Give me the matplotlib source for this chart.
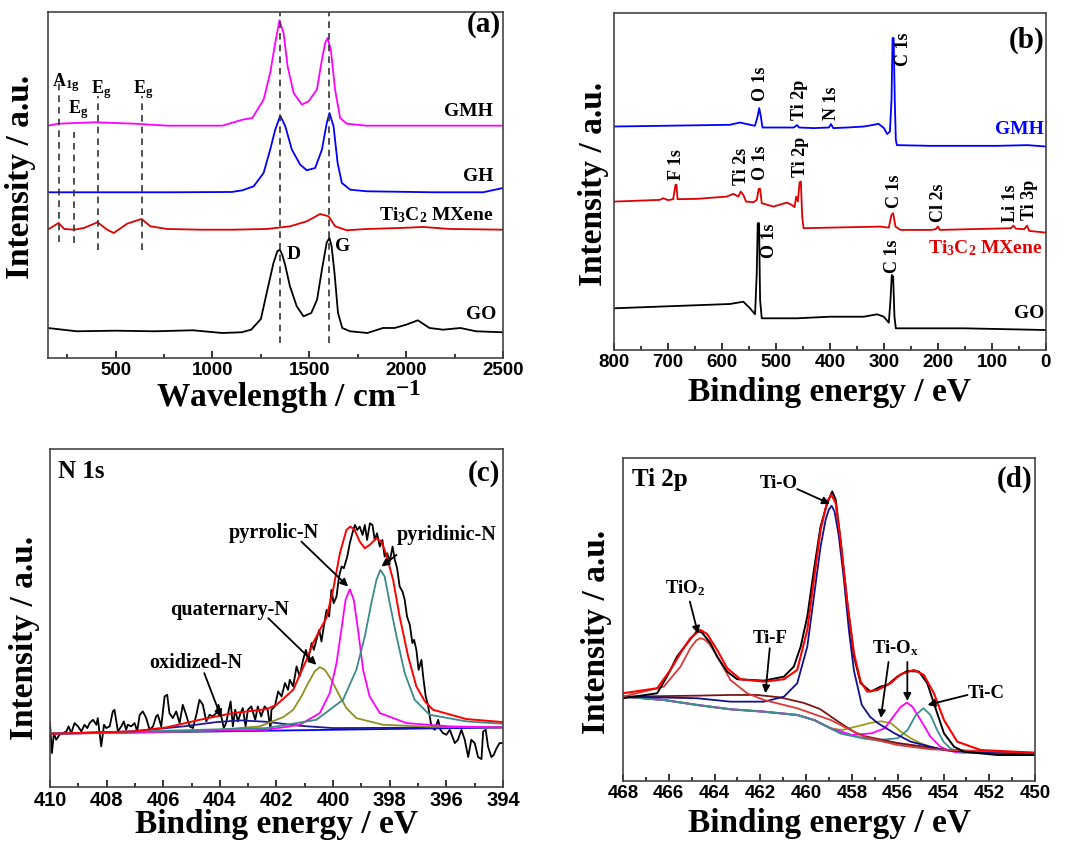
import matplotlib
matplotlib.use("Agg")
import matplotlib.pyplot as plt
from matplotlib.ticker import MultipleLocator

plt.rcParams["font.family"] = "Liberation Serif"
plt.rcParams["font.weight"] = "bold"
plt.rcParams["axes.labelweight"] = "bold"
plt.rcParams["mathtext.fontset"] = "custom"
plt.rcParams["mathtext.rm"] = "Liberation Serif:bold"
plt.rcParams["mathtext.it"] = "Liberation Serif:bold"
plt.rcParams["mathtext.bf"] = "Liberation Serif:bold"
plt.rcParams["mathtext.default"] = "rm"

# ---------------- (a) Raman data ----------------

go_raman_x = [150, 300, 500, 700, 900, 1050, 1150, 1200, 1250, 1280, 1315, 1335, 1348, 1360, 1375, 1400, 1435,
              1470, 1510, 1540, 1565, 1590, 1604, 1615, 1630, 1648, 1670, 1710, 1800, 1880, 1940, 2000, 2060,
              2120, 2190, 2280, 2360, 2500]
go_raman_y = [30, 26.7, 27.3, 26.7, 27.7, 25, 25.7, 28.3, 39, 65, 95, 106.7, 108.3, 103.3, 93.3, 71.7, 51.7,
              41.7, 45, 58.3, 88.3, 115.7, 120, 111.7, 85, 45, 30, 26.7, 25, 30, 30, 33.3, 37.7,
              30, 28.3, 30, 26.7, 25.7]

mxene_raman_x = [150, 206, 235, 287, 337, 407, 457, 491, 560, 634, 680, 766, 938, 1110, 1281, 1401, 1487, 1556,
                 1599, 1633, 1693, 1796, 1968, 2088, 2226, 2500]
mxene_raman_y = [128.3, 135, 129, 128.3, 130, 135.7, 128.3, 125, 134.3, 139, 131.7, 129, 128.3, 128.3, 129,
                 131.7, 136.7, 144, 141.7, 131.7, 127.7, 129, 130, 131, 129, 128.3]

gh_raman_x = [150, 500, 800, 1100, 1155, 1213, 1264, 1298, 1324, 1350, 1376, 1410, 1453, 1487, 1530, 1565,
              1590, 1604, 1625, 1646, 1668, 1711, 1796, 2140, 2397, 2500]
gh_raman_y = [165.7, 165.7, 165.7, 166, 167.7, 171.7, 185, 208.3, 228.3, 242.3, 231.7, 208.3, 193.3, 187.7,
              190, 208.3, 235, 245, 231.7, 195, 175, 168.3, 166.7, 165.7, 165.7, 170]

gmh_raman_x = [150, 206, 390, 600, 766, 1052, 1155, 1206, 1264, 1298, 1324, 1346, 1367, 1388, 1419, 1462,
               1496, 1539, 1565, 1582, 1594, 1611, 1633, 1659, 1693, 1796, 2500]
gmh_raman_y = [232.3, 234.3, 235.7, 234.3, 232.3, 232.3, 238.3, 240, 258.3, 285, 315, 337.7, 325, 291.7,
               265, 253.3, 256.7, 268.3, 298.3, 315, 320, 308.3, 268.3, 240, 234.3, 232.3, 232.3]

band_x = [1350, 1600]
mode_x = [206, 287, 407, 634]
mode_top = [275, 226, 261.7, 261.7]
mode_bottom = [116, 115, 108, 108]

# ---------------- (b) XPS survey data ----------------

gmh_xps_x = [800, 585, 567, 548, 539, 534, 531, 528, 525, 492, 467, 461, 457, 430, 402, 398, 394, 368, 337,
             319, 310, 300, 294, 289, 286, 284, 282, 280, 278, 276, 214, 90, 34, 0]
gmh_xps_y = [223.3, 225, 227.3, 225, 224, 233.3, 241.7, 233.3, 222.3, 222.3, 222.3, 224.7, 222.3, 221.7,
             222.3, 225.7, 221.7, 222.3, 223.3, 225, 226, 221.7, 215.7, 218.3, 250, 311.7, 311.7, 250, 210,
             204.7, 204, 204, 204.7, 203.3]

mxene_xps_x = [800, 715.2, 709, 699.7, 690.4, 686.1, 684.2, 682.3, 647.1, 591.3, 578.9, 569.6, 565.3, 560.4,
               555.4, 541.8, 535.6, 531.9, 529.4, 526.3, 504.6, 479.9, 470.6, 465.6, 462.5, 459.4, 456.3,
               453.9, 451.4, 448.9, 399.4, 306.5, 291, 286.1, 283, 278.6, 269.3, 213.6, 204.3, 200, 196.3,
               65, 60, 55.7, 40.2, 35.3, 30.9, 0]
mxene_xps_y = [148.3, 150, 151.7, 149.7, 150.7, 165, 165, 150.7, 151, 153.3, 156, 153.3, 158.3, 155, 148.3,
               147.7, 150, 161, 161, 146.7, 143.3, 147.3, 145, 142.7, 153.3, 148.3, 167.3, 168.3, 133.3,
               121.7, 122.3, 123.3, 122.3, 135, 136.7, 123.3, 120, 120, 120.7, 123.3, 120, 121.7, 124.3,
               121.3, 120.7, 124.3, 119, 117.3]

go_xps_x = [800, 585.1, 560.4, 548, 538.7, 535.6, 533.7, 531.3, 529.4, 526.3, 461.3, 399.4, 337.5, 312.7,
            300.3, 291, 287.9, 285.5, 283, 280.5, 278, 213.6, 151.7, 0]
go_xps_y = [41.7, 46, 48.3, 41.7, 35.7, 76.7, 126.7, 126.7, 50, 31.7, 31.7, 33.3, 33.3, 35.7, 33.3, 27.3,
            50, 75, 73.3, 33.3, 21.7, 21.7, 21.7, 20]

# ---------------- (c) N 1s data ----------------

n1s_raw_x = [410.0, 409.93, 409.86, 409.78, 409.66, 409.54, 409.42, 409.34, 409.25, 409.13, 409.01, 408.89,
             408.78, 408.68, 408.6, 408.48, 408.36, 408.31, 408.19, 408.09, 408.01, 407.89, 407.78, 407.72,
             407.6, 407.48, 407.39, 407.31, 407.25, 407.13, 407.01, 406.92, 406.83, 406.72, 406.6, 406.48,
             406.36, 406.25, 406.19, 406.07, 405.95, 405.86, 405.78, 405.66, 405.54, 405.42, 405.31, 405.19,
             405.07, 404.95, 404.83, 404.72, 404.6, 404.48, 404.36, 404.25, 404.13, 404.05, 403.95, 403.86,
             403.78, 403.72, 403.62, 403.54, 403.46, 403.36, 403.27, 403.19, 403.09, 403.01, 402.89, 402.75,
             402.66, 402.54, 402.42, 402.31, 402.21,
             402.18, 402.06, 401.94, 401.82, 401.70, 401.59, 401.53, 401.41, 401.29, 401.18,
             401.06, 400.96, 400.88, 400.76, 400.68, 400.59, 400.49, 400.41, 400.33, 400.23,
             400.14, 400.06, 399.98, 399.88, 399.79, 399.70, 399.62, 399.50, 399.41, 399.32,
             399.23, 399.15, 399.06, 398.96, 398.88, 398.80, 398.70, 398.61, 398.53, 398.45,
             398.35, 398.26, 398.18, 398.09, 398.0, 397.90, 397.82, 397.74, 397.65, 397.55,
             397.47, 397.39, 397.29, 397.20, 397.14, 397.06, 396.98, 396.88, 396.82, 396.73,
             396.65, 396.53, 396.41, 396.29, 396.21, 396.12, 396.0, 395.88, 395.79, 395.70,
             395.59, 395.47, 395.35, 395.23, 395.12, 395.0, 394.88, 394.76, 394.70, 394.61,
             394.53, 394.41, 394.33, 394.23, 394.12, 394.0]
n1s_raw_y = [64, 34, 54, 47.3, 52.3, 54, 55.7, 60.7, 54, 64, 60.7, 55.7, 62.3, 59, 64, 67.3, 62.3, 69, 40.7,
             62.3, 59, 60.7, 75.7, 77.3, 55.7, 60.7, 65.7, 57.3, 62.3, 60.7, 64, 55.7, 72.3, 75.7, 69, 57.3,
             60.7, 70.7, 72.3, 60.7, 90.7, 92.3, 74, 69, 75.7, 64, 82.3, 72.3, 60.7, 59, 72.3, 87.3, 82.3,
             65.7, 72.3, 70.7, 74, 82.3, 70.7, 59, 64, 72.3, 85.7, 60.7, 77.3, 65.7, 74, 79, 60.7, 77.3,
             80.7, 67.3, 80.7, 70.7, 80.7, 77.3, 57.3,
             77.3, 80.7, 95.7, 90.7, 104, 97.3, 107.3, 100.7, 120.7, 110.7,
             127.3, 137.3, 127.3, 144, 137.3, 147.3, 157.3, 145.7, 160.7, 177.3,
             170.7, 197.3, 184, 190.7, 210.7, 220.7, 219, 230.7, 244, 254,
             262.3, 257.3, 260.7, 252.3, 262.3, 247.3, 264, 262.3, 247.3, 254,
             240.7, 247.3, 230.7, 234, 225.7, 240.7, 227.3, 219, 200.7, 195.7,
             187.3, 170.7, 162.3, 144, 147.3, 137.3, 117.3, 127.3, 110.7, 90.7,
             82.3, 60.7, 57.3, 67.3, 57.3, 54, 52.3, 57.3, 50.7, 44,
             47.3, 57.3, 47.3, 30, 47.3, 44, 30, 28, 55.7, 57.3,
             40.7, 30, 32, 38.7, 44, 44]

n1s_fit_x = [410, 407.06, 405.88, 404.71, 403.53, 402.35, 402.0, 401.41, 400.94, 400.71, 400.47, 400.24,
             400.0, 399.76, 399.53, 399.39, 399.24, 399.06, 398.88, 398.71, 398.47, 398.29, 398.12, 397.88,
             397.65, 397.35, 397.06, 396.76, 396.47, 395.29, 394]
n1s_fit_y = [53.3, 55.7, 59.7, 67.3, 74, 78, 82.3, 97.3, 127.3, 144, 157.3, 169, 197.3, 234, 257.3, 260.7,
             257.3, 245.7, 239, 242.3, 249, 245.7, 232.3, 207.3, 170.7, 130.7, 100.7, 85.7, 77.3, 68, 65]

n1s_base_x = [410, 394]
n1s_base_y = [53.3, 59.7]

oxidized_x = [410, 407.06, 405.29, 404.12, 403.29, 402.35, 401.18, 400.0, 394]
oxidized_y = [53.3, 55.7, 60.7, 65, 66.7, 65.3, 61.3, 59, 59.7]

quaternary_x = [410, 404.71, 402.59, 401.76, 401.41, 401.12, 400.88, 400.65, 400.47, 400.29, 400.06, 399.82,
                399.53, 399.18, 398.24, 396.47, 394]
quaternary_y = [53.3, 55.7, 60.7, 70, 77.3, 90.7, 104, 115.7, 120, 117.3, 107.3, 94, 79, 69, 62.3, 60.3, 59.7]

pyrrolic_x = [410, 402.35, 401.18, 400.47, 400.12, 399.88, 399.71, 399.56, 399.41, 399.27, 399.12, 398.94,
              398.71, 398.35, 397.41, 395.88, 394]
pyrrolic_y = [53.3, 57.3, 62.3, 74, 94, 124, 157.3, 187.3, 198, 187.3, 157.3, 117.3, 90.7, 74, 64, 60.7, 59.7]

pyridinic_x = [410, 402.35, 400.59, 399.65, 399.18, 398.88, 398.65, 398.47, 398.33, 398.18, 398.0, 397.76,
               397.47, 397.12, 396.59, 395.29, 394]
pyridinic_y = [53.3, 59, 67.3, 87.3, 117.3, 150.7, 184, 207.3, 217.3, 210.7, 184, 150.7, 114, 87.3, 72.3,
               65.7, 63.3]

# ---------------- (d) Ti 2p data ----------------

ti_raw_x = [468, 466.51, 466.08, 465.64, 465.2, 464.76, 464.55, 464.18, 463.89, 463.45, 463.01, 461.85,
            460.97, 460.54, 460.24, 459.95, 459.66, 459.37, 459.08, 458.86, 458.71, 458.5, 458.2, 457.91,
            457.62, 457.18, 456.75, 456.45, 456.02, 455.58, 455.07, 454.71, 454.42, 453.98, 453.54, 453.1,
            451.64, 450.04]
ti_raw_y = [82.7, 87.7, 104.3, 124.3, 137.7, 150, 148.3, 137.7, 124.3, 109.3, 101.7, 100.3, 104.3, 114.3,
            134.3, 164.3, 211, 254.3, 277.7, 289.3, 281, 241, 177.7, 124.3, 97.7, 89.3, 94.3, 96, 104.3,
            110, 109.3, 97.7, 77.7, 47.7, 34.3, 29.3, 26, 26]

ti_fit_x = [468, 466.51, 465.93, 465.49, 465.06, 464.62, 464.33, 463.89, 463.45, 462.87, 461.85, 460.97,
            460.39, 459.95, 459.66, 459.37, 459.08, 458.9, 458.71, 458.5, 458.2, 457.91, 457.62, 457.33,
            456.89, 456.31, 455.87, 455.29, 454.86, 454.42, 453.98, 453.4, 452.38, 450.04]
ti_fit_y = [87.7, 92.7, 111, 127.7, 142.7, 151, 147, 131, 112.7, 101.7, 99.3, 101.7, 111, 151, 201, 251,
            279.3, 286, 277.7, 241, 177.7, 127.7, 99.3, 89.3, 91, 97.7, 106.7, 111, 106, 87.7, 61, 39.3, 31,
            28.3]

tio2_x = [468, 466.22, 465.49, 465.06, 464.8, 464.62, 464.45, 464.25, 464.0, 463.7, 463.31, 462.58, 461.85,
          460.39, 458.93, 457.48, 456.02, 454.56, 450.04]
tio2_y = [84.3, 94.3, 114.3, 132.7, 140.5, 142.7, 141.5, 137.5, 129, 117, 101, 87.7, 81, 72.7, 61, 44.3,
          36, 31.7, 28.3]

tio_x = [468, 464.76, 463.31, 461.85, 460.97, 460.39, 459.95, 459.66, 459.37, 459.15, 459.01, 458.89, 458.76,
         458.57, 458.35, 458.13, 457.91, 457.57, 457.2, 456.86, 456.14, 455.43, 454.0, 452.38, 450.04]
tio_y = [84.3, 82.7, 79.3, 79.3, 84.3, 97.7, 134.3, 184.3, 234.3, 261, 271, 275, 269.3, 244.3, 201, 150,
         110, 76, 64, 57.7, 47.7, 39.3, 31, 28.5, 27.7]

tif_x = [468, 464.76, 463.31, 462.14, 461.12, 460.1, 459.4, 458.64, 457.9, 457.48, 456.02, 453.83, 450.04]
tif_y = [84.3, 85.3, 86, 86, 83.5, 78, 72, 60, 49, 45, 38, 31, 27.7]

ti_base_x = [468, 466.22, 464.76, 463.31, 461.85, 460.39, 459.66, 458.93, 458.5, 457.48, 456.02, 454.56,
             453.1, 450.04]
ti_base_y = [84.3, 81, 76, 71.7, 69.3, 66, 61, 52.7, 47.7, 42.7, 37.7, 32.7, 29.3, 27.7]

tiox1_x = [468, 466.22, 464.76, 463.31, 461.85, 460.39, 459.66, 458.93, 458.43, 457.71, 457.14, 456.71,
           456.29, 455.86, 455.43, 455.0, 454.57, 454.0, 453.43, 452.38, 450.04]
tiox1_y = [84.3, 81, 76, 71.7, 69.3, 66, 61, 52.7, 51, 55, 58.3, 59.7, 57.7, 49.3, 42.7, 37.7, 34.3, 31,
           29.3, 28.5, 27.7]

tiox2_x = [468, 466.22, 464.76, 463.31, 461.85, 460.39, 459.66, 458.93, 458.0, 457.14, 456.57, 456.14,
           455.86, 455.6, 455.36, 455.0, 454.57, 454.14, 453.71, 453.29, 452.38, 450.04]
tiox2_y = [84.3, 81, 76, 71.7, 69.3, 66, 61, 52.7, 46, 47.7, 52.7, 66, 74.3, 78.3, 74.3, 61, 44.3, 34.3,
           30, 28.3, 28, 27.7]

tic_x = [468, 466.22, 464.76, 463.31, 461.85, 460.39, 459.66, 458.93, 458.5, 457.48, 456.86, 456.0, 455.57,
         455.21, 454.88, 454.57, 454.28, 454.0, 453.71, 453.36, 452.38, 450.04]
tic_y = [84.3, 81, 76, 71.7, 69.3, 66, 61, 52.7, 47.7, 42.7, 41, 42.7, 51, 66, 72.7, 66, 51, 39.3, 32.7,
         29.3, 28.3, 27.7]


def style_axis(ax, xmin, xmax, major, minor, ymax, tick_size):
    ax.set_xlim(xmin, xmax)
    ax.set_ylim(0, ymax)
    ax.xaxis.set_major_locator(MultipleLocator(major))
    ax.xaxis.set_minor_locator(MultipleLocator(minor))
    ax.set_yticks([])
    ax.tick_params(axis="x", which="both", direction="in", top=False, width=1.1, pad=3,
                   labelsize=tick_size, labelfontfamily="Liberation Sans")
    ax.tick_params(axis="x", which="major", length=5)
    ax.tick_params(axis="x", which="minor", length=3)
    for sp in ax.spines.values():
        sp.set_linewidth(1.2)
        sp.set_color("#444444")


def arrow(ax, start, tip):
    ax.annotate("", xy=tip, xytext=start,
                arrowprops=dict(arrowstyle="-|>", color="black", lw=1.3, mutation_scale=11,
                                shrinkA=0, shrinkB=0))


fig = plt.figure(figsize=(10.65, 8.55), dpi=100)

# Panel (a):

ax = fig.add_axes([0.0448, 0.5813, 0.4276, 0.4047])
style_axis(ax, 150, 2500, 500, 250, 346, 13.5)

ax.plot(go_raman_x, go_raman_y, color="black", lw=1.3)
ax.plot(mxene_raman_x, mxene_raman_y, color="#e00000", lw=1.3)
ax.plot(gh_raman_x, gh_raman_y, color="#0000ff", lw=1.3)
ax.plot(gmh_raman_x, gmh_raman_y, color="#ff00ff", lw=1.3)

ax.vlines(band_x, 15, 346, colors="#333333", linestyles=(0, (4, 3)), lw=1.2)
ax.vlines(mode_x, mode_bottom, mode_top, colors="#333333", linestyles=(0, (4, 3)), lw=1.2)

ax.text(170, 271.7, "A$_{1g}$", fontsize=13, ha="left", va="baseline")
ax.text(253, 245, "E$_g$", fontsize=13, ha="left", va="baseline")
ax.text(371, 265, "E$_g$", fontsize=13, ha="left", va="baseline")
ax.text(588, 265, "E$_g$", fontsize=13, ha="left", va="baseline")
ax.text(1384, 103.3, "D", fontsize=14, ha="left", va="center")
ax.text(1633, 111, "G", fontsize=14, ha="left", va="center")

ax.text(2449, 246.7, "GMH", fontsize=14, ha="right", va="center")
ax.text(2452, 181.7, "GH", fontsize=14, ha="right", va="center")
ax.text(2449, 143.3, "Ti$_3$C$_2$ MXene", fontsize=14, ha="right", va="center")
ax.text(2466, 43.3, "GO", fontsize=14, ha="right", va="center")
ax.text(0.996, 0.963, "(a)", transform=ax.transAxes, fontsize=21, ha="right", va="center")

ax.set_xlabel("Wavelength / cm$^{-1}$", fontsize=24)
ax.set_ylabel("Intensity / a.u.", fontsize=24)
ax.xaxis.set_label_coords(0.53, -0.06)
ax.yaxis.set_label_coords(-0.025, 0.523)

# Panel (b):

ax = fig.add_axes([0.5765, 0.5906, 0.4056, 0.3942])
style_axis(ax, 800, 0, 100, 50, 336.7, 13.5)

ax.plot(gmh_xps_x, gmh_xps_y, color="#0000ff", lw=1.3)
ax.plot(mxene_xps_x, mxene_xps_y, color="#e00000", lw=1.3)
ax.plot(go_xps_x, go_xps_y, color="black", lw=1.3)

peak_labels = [
    (529.4, 248.3, "O 1s"), (456.3, 230, "Ti 2p"), (397.5, 230, "N 1s"), (263.2, 283.3, "C 1s"),
    (684.2, 170, "F 1s"), (563.5, 165, "Ti 2s"), (529.4, 170, "O 1s"), (453.9, 173.3, "Ti 2p"),
    (280.5, 141.7, "C 1s"), (198.1, 128.3, "Cl 2s"), (65, 128.3, "Li 1s"), (30.9, 130, "Ti 3p"),
    (512.1, 91.7, "O 1s"), (284.8, 76.7, "C 1s"),
]
for x, y, s in peak_labels:
    ax.text(x, y, s, rotation=90, fontsize=13, ha="center", va="bottom")

ax.text(3, 220, "GMH", color="#0000ff", fontsize=14, ha="right", va="center")
ax.text(6, 101.7, "Ti$_3$C$_2$ MXene", color="#e00000", fontsize=14, ha="right", va="center")
ax.text(3, 36.7, "GO", color="black", fontsize=14, ha="right", va="center")
ax.text(0.996, 0.92, "(b)", transform=ax.transAxes, fontsize=21, ha="right", va="center")

ax.set_xlabel("Binding energy / eV", fontsize=24)
ax.set_ylabel("Intensity / a.u.", fontsize=24)
ax.xaxis.set_label_coords(0.5, -0.08)
ax.yaxis.set_label_coords(-0.012, 0.493)

# Panel (c):

ax = fig.add_axes([0.0469, 0.0795, 0.4254, 0.3953])
style_axis(ax, 410, 394, 2, 1, 338.3, 14.5)

ax.plot(n1s_raw_x, n1s_raw_y, color="black", lw=1.3)
ax.plot(n1s_base_x, n1s_base_y, color="#0000ff", lw=1.3)
ax.plot(oxidized_x, oxidized_y, color="#1a1a99", lw=1.3)
ax.plot(quaternary_x, quaternary_y, color="#8f8f22", lw=1.3)
ax.plot(pyrrolic_x, pyrrolic_y, color="#ff00ff", lw=1.3)
ax.plot(pyridinic_x, pyridinic_y, color="#3a8a8a", lw=1.3)
ax.plot(n1s_fit_x, n1s_fit_y, color="#ff0000", lw=1.4)

ax.text(402.09, 254, "pyrrolic-N", fontsize=14.5, ha="center", va="center")
arrow(ax, (401.12, 245.7), (399.47, 200.7))
ax.text(396.0, 252.3, "pyridinic-N", fontsize=14.5, ha="center", va="center")
arrow(ax, (397.76, 232.3), (398.29, 220.7))
ax.text(403.65, 177.3, "quaternary-N", fontsize=14.5, ha="center", va="center")
arrow(ax, (402.29, 169), (400.59, 122.3))
ax.text(404.85, 124, "oxidized-N", fontsize=14.5, ha="center", va="center")
arrow(ax, (404.55, 114), (403.95, 69.5))

ax.text(0.018, 0.933, "N 1s", transform=ax.transAxes, fontsize=18, ha="left", va="center")
ax.text(0.993, 0.928, "(c)", transform=ax.transAxes, fontsize=21, ha="right", va="center")

ax.set_xlabel("Binding energy / eV", fontsize=24)
ax.set_ylabel("Intensity / a.u.", fontsize=24)
ax.xaxis.set_label_coords(0.5, -0.065)
ax.yaxis.set_label_coords(-0.022, 0.44)

# Panel (d):

ax = fig.add_axes([0.585, 0.0865, 0.3869, 0.3778])
style_axis(ax, 468, 450, 2, 1, 322.7, 13.5)

ax.plot(ti_base_x, ti_base_y, color="#6f7fe0", lw=1.6)
ax.plot(tiox1_x, tiox1_y, color="#9a9a1a", lw=1.3)
ax.plot(tiox2_x, tiox2_y, color="#ff00ff", lw=1.3)
ax.plot(tic_x, tic_y, color="#3a8f8f", lw=1.3)
ax.plot(tif_x, tif_y, color="#7a1515", lw=1.3)
ax.plot(tio_x, tio_y, color="#101090", lw=1.3)
ax.plot(tio2_x, tio2_y, color="#d83a3a", lw=1.3)
ax.plot(ti_raw_x, ti_raw_y, color="black", lw=1.4)
ax.plot(ti_fit_x, ti_fit_y, color="#ff0000", lw=1.5)

ax.text(461.19, 297.7, "Ti-O", fontsize=13.5, ha="center", va="center")
arrow(ax, (460.39, 291.7), (458.96, 277))
ax.text(465.27, 192.7, "TiO$_2$", fontsize=13.5, ha="center", va="center")
arrow(ax, (465.08, 179.3), (464.72, 147))
ax.text(461.59, 142.7, "Ti-F", fontsize=13.5, ha="center", va="center")
arrow(ax, (461.59, 132.7), (461.78, 87.7))
ax.text(456.09, 132.7, "Ti-O$_x$", fontsize=13.5, ha="center", va="center")
arrow(ax, (456.4, 119), (456.74, 63))
arrow(ax, (455.58, 119), (455.58, 80))
ax.text(452.15, 87.7, "Ti-C", fontsize=13.5, ha="center", va="center")
arrow(ax, (452.95, 86), (454.7, 76))

ax.text(0.022, 0.933, "Ti 2p", transform=ax.transAxes, fontsize=18, ha="left", va="center")
ax.text(0.994, 0.933, "(d)", transform=ax.transAxes, fontsize=21, ha="right", va="center")

ax.set_xlabel("Binding energy / eV", fontsize=24)
ax.set_ylabel("Intensity / a.u.", fontsize=24)
ax.xaxis.set_label_coords(0.5, -0.085)
ax.yaxis.set_label_coords(-0.027, 0.461)

# Save:

plt.savefig("out.png", dpi=100)
plt.close()
